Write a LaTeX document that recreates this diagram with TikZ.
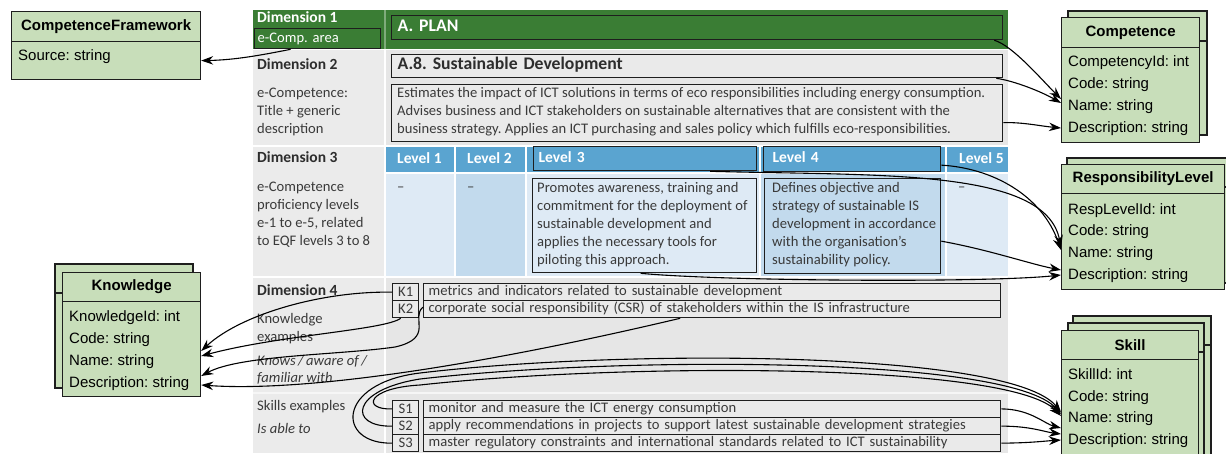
\documentclass[tikz,border=0pt]{standalone}
\usepackage{fontspec}
\setmainfont{Carlito}
\newfontfamily\umlfamily{Liberation Sans}
\usetikzlibrary{arrows.meta}
\frenchspacing
\definecolor{dimgreen}{RGB}{58,125,52}
\definecolor{rowgray}{RGB}{230,230,230}
\definecolor{leftgray}{RGB}{235,235,235}
\definecolor{boxfill}{RGB}{234,234,234}
\definecolor{hdrblue}{RGB}{90,164,208}
\definecolor{lblue}{RGB}{222,234,245}
\definecolor{mblue}{RGB}{194,218,237}
\definecolor{umlgreen}{RGB}{200,222,186}
\definecolor{txtgray}{RGB}{58,58,58}
\definecolor{txtdark}{RGB}{45,45,45}
\definecolor{boxline}{RGB}{30,30,30}
\definecolor{sepline}{RGB}{246,246,246}
\newcommand\tabfnt{\fontsize{14.6}{18.2}\selectfont}
\newcommand\dimfnt{\fontsize{15.5}{18}\selectfont\bfseries}
\newcommand\ttlfnt{\fontsize{17.7}{20}\selectfont\bfseries}
\newcommand\umlfnt{\umlfamily\fontsize{15}{18}\selectfont}
\begin{document}
\begin{tikzpicture}[x=1pt,y=-1pt,
  lbl/.style={anchor=west, inner sep=0pt, text height=10pt, text depth=3pt, font=\tabfnt, text=txtgray},
  dimlbl/.style={lbl, font=\dimfnt, text=txtdark},
  tbox/.style={draw=boxline, line width=1.3pt, anchor=north west, inner ysep=0pt, align=left, font=\tabfnt, text=txtgray},
  onel/.style={text height=10pt, text depth=3pt},
  codebox/.style={draw=boxline, line width=1.3pt, anchor=north west, inner sep=0pt, fill=boxfill, font=\tabfnt, text=txtgray, minimum width=26pt},
  umlback/.style={draw=boxline, fill=umlgreen, line width=1.2pt},
  umlline/.style={draw=boxline, line width=1.2pt},
  umlhead/.style={draw=boxline, fill=umlgreen, line width=1.2pt, anchor=north west, inner sep=0pt, font=\umlfnt\bfseries},
  umlbody/.style={draw=boxline, fill=umlgreen, line width=1.2pt, anchor=north west, inner sep=0pt},
  umlrow/.style={anchor=west, inner xsep=7pt, inner ysep=0pt, font=\umlfnt, text height=11pt, text depth=3pt},
  conn/.style={draw=black, line width=1.1pt, -{Stealth[length=12pt,width=8.5pt]}},
]
\useasboundingbox (0,0) rectangle (1226,453);

% ---------------- table background ----------------
\fill[dimgreen] (253,10) rectangle (1008,49);
\draw[white!35!dimgreen, line width=1.5pt] (385,10) -- (385,49);
\fill[leftgray] (253,50) rectangle (384,145);
\fill[rowgray] (386,50) rectangle (1008,145);
\fill[leftgray] (253,147) rectangle (384,276);
\fill[hdrblue] (386,147) rectangle (454,172);
\fill[hdrblue] (456,147) rectangle (525,172);
\fill[hdrblue] (527,147) rectangle (759,172);
\fill[hdrblue] (761,147) rectangle (945,172);
\fill[hdrblue] (947,147) rectangle (1008,172);
\fill[lblue] (386,174) rectangle (454,276);
\fill[mblue] (456,174) rectangle (525,276);
\fill[lblue] (527,174) rectangle (759,276);
\fill[mblue] (761,174) rectangle (945,276);
\fill[lblue] (947,174) rectangle (1008,276);
\fill[leftgray] (253,278) rectangle (384,453);
\fill[rowgray] (386,278) rectangle (1008,453);
\fill[sepline] (253,392) rectangle (1008,394);

% ---------------- row 1 ----------------
\node[dimlbl, text=white] (d1) at (257,19) {Dimension 1};
\node[tbox, onel, minimum width=126pt, minimum height=20pt, inner xsep=3pt, text width=120pt, text=white] (ecomp) at (254,28) {e-Comp. area};
\node[tbox, onel, fill=dimgreen, minimum width=611pt, minimum height=24pt, inner xsep=6pt, text width=599pt, font=\ttlfnt, text=white] (plan) at (391,15) {A. PLAN};

% ---------------- row 2 ----------------
\node[dimlbl] (d2) at (257,66) {Dimension 2};
\node[lbl] (d2a) at (257,94) {e-Competence:};
\node[lbl] (d2b) at (257,112) {Title + generic};
\node[lbl] (d2c) at (257,130) {description};
\node[tbox, onel, fill=boxfill, minimum width=611pt, minimum height=23pt, inner xsep=6pt, text width=599pt, font=\ttlfnt, text=txtdark] (a8) at (391,54) {A.8. Sustainable Development};
\node[tbox, fill=boxfill, minimum width=611pt, minimum height=57pt] (desc) at (391,84) {};
\node[lbl] (desc1) at (397,94) {Estimates the impact of ICT solutions in terms of eco responsibilities including energy consumption.};
\node[lbl] (desc2) at (397,112) {Advises business and ICT stakeholders on sustainable alternatives that are consistent with the};
\node[lbl] (desc3) at (397,130) {business strategy. Applies an ICT purchasing and sales policy which fulfills eco-responsibilities.};

% ---------------- row 3 ----------------
\node[dimlbl] (d3) at (257,159) {Dimension 3};
\node[lbl] (d3a) at (257,188) {e-Competence};
\node[lbl] (d3b) at (257,206) {proficiency levels};
\node[lbl] (d3c) at (257,224) {e-1 to e-5, related};
\node[lbl] (d3d) at (257,242) {to EQF levels 3 to 8};
\node[dimlbl, text=white] (lv1) at (397,160) {Level 1};
\node[dimlbl, text=white] (lv2) at (467,160) {Level 2};
\node[dimlbl, text=white] (lv5) at (959,160) {Level 5};
\node[tbox, onel, minimum width=223pt, minimum height=24pt, inner xsep=5pt, text width=213pt, font=\dimfnt, text=white] (lvl3h) at (533,146) {Level 3};
\node[tbox, onel, minimum width=177pt, minimum height=25pt, inner xsep=9pt, text width=159pt, font=\dimfnt, text=white] (lvl4h) at (763,146) {Level 4};
\node[lbl] (dash1) at (397,188) {--};
\node[lbl] (dash2) at (467,188) {--};
\node[lbl] (dash5) at (958,188) {--};
\node[tbox, fill=lblue, minimum width=224pt, minimum height=94pt] (lvl3d) at (532,178) {};
\node[lbl] (l3a) at (537,189) {Promotes awareness, training and};
\node[lbl] (l3b) at (537,207) {commitment for the deployment of};
\node[lbl] (l3c) at (537,225) {sustainable development and};
\node[lbl] (l3d) at (537,243) {applies the necessary tools for};
\node[lbl] (l3e) at (537,261) {piloting this approach.};
\node[tbox, fill=mblue, minimum width=176pt, minimum height=95pt] (lvl4d) at (764,178) {};
\node[lbl] (l4a) at (772,189) {Defines objective and};
\node[lbl] (l4b) at (772,207) {strategy of sustainable IS};
\node[lbl] (l4c) at (772,225) {development in accordance};
\node[lbl] (l4d) at (772,243) {with the organisation’s};
\node[lbl] (l4e) at (772,261) {sustainability policy.};

% ---------------- row 4 ----------------
\node[dimlbl] (d4) at (257,292) {Dimension 4};
\node[lbl] (d4a) at (257,320) {Knowledge};
\node[lbl] (d4b) at (257,338) {examples};
\node[lbl, font=\tabfnt\itshape] (d4c) at (257,362) {Knows\,/\,aware of\,/};
\node[lbl, font=\tabfnt\itshape] (d4d) at (257,379) {familiar with};
\node[lbl] (d4e) at (257,407) {Skills examples};
\node[lbl, font=\tabfnt\itshape] (d4f) at (257,430) {Is able to};

\node[codebox, minimum height=17pt] (k1) at (392,283) {K1};
\node[codebox, minimum height=17pt] (k2) at (392,300) {K2};
\node[tbox, onel, fill=boxfill, minimum width=577pt, minimum height=17pt, inner xsep=5pt, text width=567pt] (k1t) at (423,283) {metrics and indicators related to sustainable development};
\node[tbox, onel, fill=boxfill, minimum width=577pt, minimum height=17pt, inner xsep=5pt, text width=567pt] (k2t) at (423,300) {corporate social responsibility (CSR) of stakeholders within the IS infrastructure};

\node[codebox, minimum height=16.5pt] (s1) at (392,400) {S1};
\node[codebox, minimum height=17pt] (s2) at (392,417) {S2};
\node[codebox, minimum height=17pt] (s3) at (392,434) {S3};
\node[tbox, onel, fill=boxfill, minimum width=577pt, minimum height=16.5pt, inner xsep=5pt, text width=567pt] (s1t) at (423,400) {monitor and measure the ICT energy consumption};
\node[tbox, onel, fill=boxfill, minimum width=577pt, minimum height=17pt, inner xsep=5pt, text width=567pt] (s2t) at (423,417) {apply recommendations in projects to support latest sustainable development strategies};
\node[tbox, onel, fill=boxfill, minimum width=577pt, minimum height=17pt, inner xsep=5pt, text width=567pt] (s3t) at (423,434) {master regulatory constraints and international standards related to ICT sustainability};

% ---------------- UML: CompetenceFramework ----------------
\node[umlhead, minimum width=189pt, minimum height=30pt] (cf) at (11,11) {CompetenceFramework};
\node[umlbody, minimum width=189pt, minimum height=38pt] (cfbody) at (11,41) {};
\node[umlrow] (cfsrc) at (11,56) {Source: string};

% ---------------- UML: Competence ----------------
\draw[umlback] (1068,11) rectangle (1207,135);
\draw[umlline] (1068,41) -- (1207,41);
\node[umlhead, minimum width=138pt, minimum height=30pt] (comp) at (1061,17) {Competence};
\node[umlbody, minimum width=138pt, minimum height=95pt] (compbody) at (1061,47) {};
\node[umlrow] (compid) at (1061,62) {CompetencyId: int};
\node[umlrow] (compcode) at (1061,84) {Code: string};
\node[umlrow] (compname) at (1061,106) {Name: string};
\node[umlrow] (compdesc) at (1061,128) {Description: string};

% ---------------- UML: ResponsibilityLevel ----------------
\draw[umlback] (1067,158) rectangle (1231,283);
\draw[umlline] (1067,187) -- (1231,187);
\node[umlhead, minimum width=163pt, minimum height=29pt] (rl) at (1061,164) {ResponsibilityLevel};
\node[umlbody, minimum width=163pt, minimum height=96pt] (rlbody) at (1061,193) {};
\node[umlrow] (rlid) at (1061,210) {RespLevelId: int};
\node[umlrow] (rlcode) at (1061,231) {Code: string};
\node[umlrow] (rlname) at (1061,253) {Name: string};
\node[umlrow] (rldesc) at (1061,275) {Description: string};

% ---------------- UML: Skill ----------------
\draw[umlback] (1073,316) rectangle (1211,470);
\draw[umlline] (1073,345) -- (1211,345);
\draw[umlback] (1068,323) rectangle (1204,470);
\draw[umlline] (1068,352) -- (1204,352);
\node[umlhead, minimum width=137pt, minimum height=29pt] (sk) at (1061,330) {Skill};
\node[umlbody, minimum width=137pt, minimum height=120pt] (skbody) at (1061,359) {};
\node[umlrow] (skid) at (1061,375) {SkillId: int};
\node[umlrow] (skcode) at (1061,397) {Code: string};
\node[umlrow] (skname) at (1061,418) {Name: string};
\node[umlrow] (skdesc) at (1061,440) {Description: string};

% ---------------- UML: Knowledge ----------------
\draw[umlback] (55,264) rectangle (193,388);
\draw[umlline] (55,293) -- (193,293);
\node[umlhead, minimum width=138pt, minimum height=29pt] (kn) at (62,272) {Knowledge};
\node[umlbody, minimum width=138pt, minimum height=95pt] (knbody) at (62,301) {};
\node[umlrow] (knid) at (62,317) {KnowledgeId: int};
\node[umlrow] (kncode) at (62,339) {Code: string};
\node[umlrow] (knname) at (62,361) {Name: string};
\node[umlrow] (kndesc) at (62,383) {Description: string};
\coordinate (knNameR) at (knbody.east |- knname.west);
\coordinate (knDescR) at (knbody.east |- kndesc.west);

% ---------------- connectors ----------------
\draw[conn] ([xshift=-27pt]ecomp.south) .. controls (262,55) and (235,60) .. (cfbody.east);

\draw[conn] ([xshift=-9pt]plan.south east) .. controls (1012,45) and (1042,80) .. ([yshift=7pt]compname.west);
\draw[conn] ([xshift=-7pt]a8.south east) .. controls (1015,81) and (1042,92) .. ([yshift=3pt]compname.west);
\draw[conn] ([yshift=-9.5pt]desc.east) .. controls (1022,122) and (1040,126) .. (compdesc.west);

\draw[conn] ([xshift=65pt]lvl3h.south) .. controls (880,176) and (1045,168) .. ([yshift=6pt]rlname.west);
\draw[conn] ([yshift=-6pt]lvl4h.east) .. controls (992,168) and (1042,195) .. ([yshift=3pt]rlname.west);
\draw[conn] ([yshift=-15pt]lvl4d.east) .. controls (990,250) and (1030,264) .. ([yshift=5pt]rldesc.west);
\draw[conn] ([xshift=-4pt]lvl3d.south) .. controls (720,281) and (985,283) .. (rldesc.west);

\draw[conn] (k1.west) .. controls (320,291) and (240,315) .. ([yshift=10pt]knNameR);
\draw[conn] ([xshift=-5pt]k2.south) .. controls (385,330) and (280,335) .. ([yshift=5pt]knNameR);
\draw[conn] ([yshift=2pt]k2t.west) .. controls (410,318) and (435,338) .. (395,347) .. controls (340,355) and (240,355) .. ([yshift=7pt]knDescR);
\draw[conn] ([xshift=-32pt]k2t.south) .. controls (470,368) and (300,392) .. ([yshift=-2pt]knDescR);

\draw[conn] (s1.west) .. controls (362,410) and (366,388) .. (420,385) .. controls (620,363) and (1010,362) .. ([yshift=2pt]skname.west);
\draw[conn] (s2.west) .. controls (348,427) and (350,390) .. (420,379) .. controls (620,356) and (1010,356) .. ([yshift=4pt]skname.west);
\draw[conn] (s3.west) .. controls (336,444) and (336,383) .. (420,373) .. controls (620,349) and (1010,350) .. ([yshift=6pt]skname.west);

\draw[conn] (s1t.east) .. controls (1030,409) and (1045,424) .. ([yshift=12pt]skdesc.west);
\draw[conn] (s2t.east) .. controls (1030,426) and (1045,432) .. ([yshift=6pt]skdesc.west);
\draw[conn] (s3t.east) .. controls (1030,443) and (1045,441) .. (skdesc.west);
\end{tikzpicture}
\end{document}
